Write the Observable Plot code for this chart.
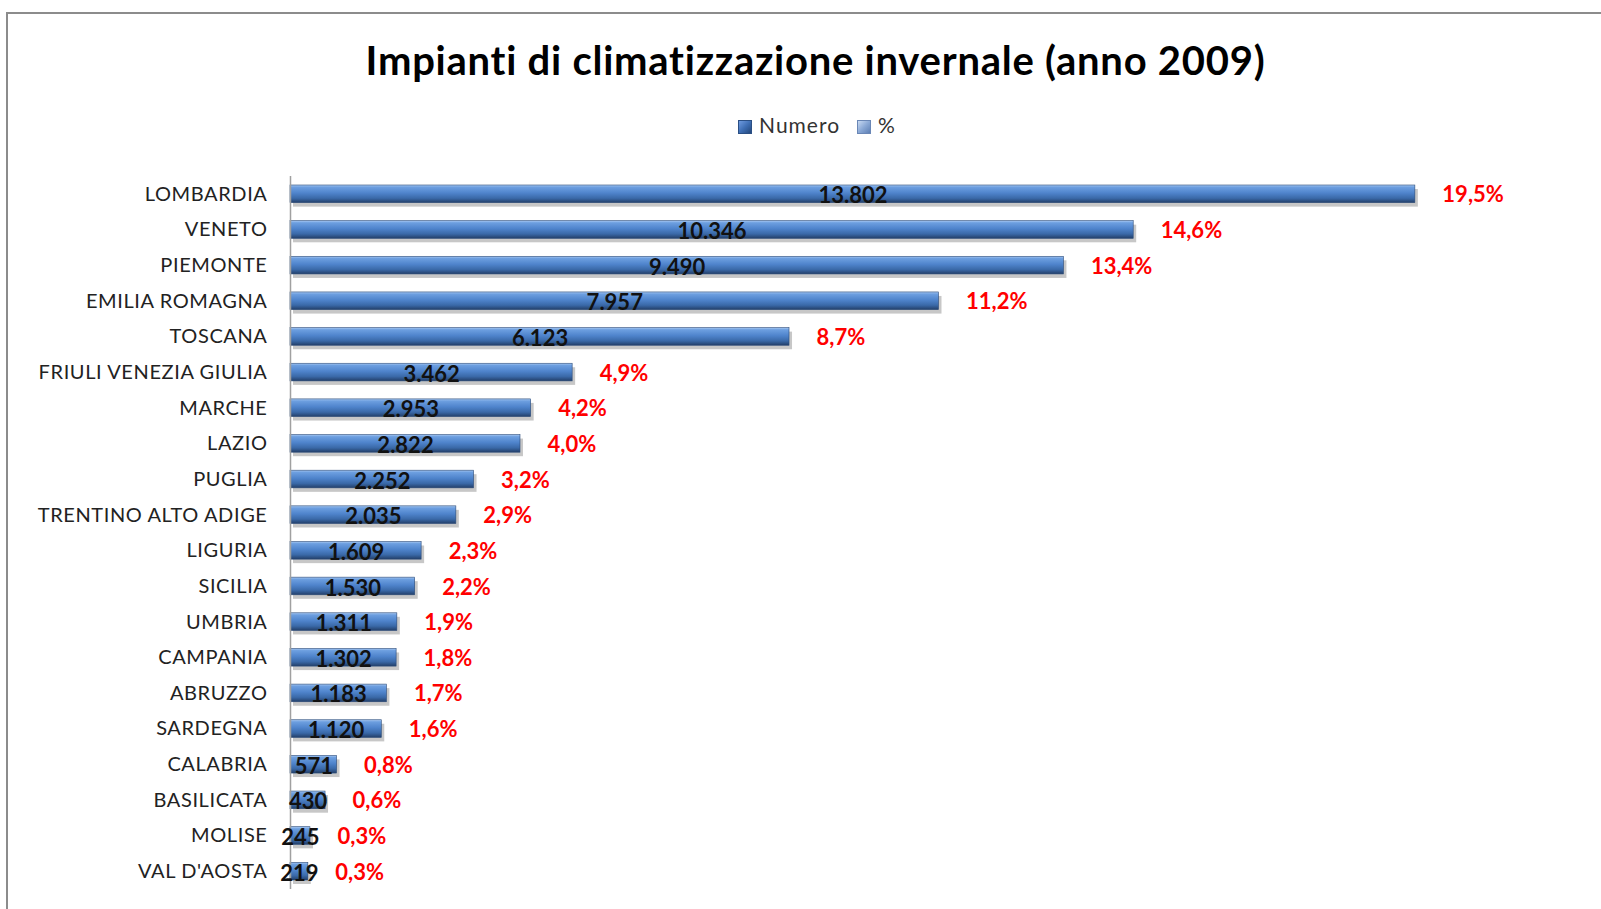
<!DOCTYPE html>
<html>
<head>
<meta charset="utf-8">
<script src="https://cdn.jsdelivr.net/npm/d3@7"></script>
<script src="https://cdn.jsdelivr.net/npm/@observablehq/plot@0.6"></script>
<style>
  html, body { margin: 0; padding: 0; background: #fff; }
  #wrap { position: relative; width: 1601px; height: 909px; overflow: hidden; font-family: Lato, "DejaVu Sans", sans-serif; }
  #frame { position: absolute; left: 6px; top: 12px; width: 1700px; height: 1000px; border: 2px solid #8c8c8c; box-sizing: border-box; }
  #title { position: absolute; left: 0; width: 1631px; top: 40px; text-align: center; font-size: 40px; line-height: 40px; font-weight: 700; color: #000; letter-spacing: 0.75px; }
  #legend { position: absolute; left: 0; width: 1634px; top: 114px; text-align: center; font-size: 21px; line-height: 22px; color: #333; letter-spacing: 1px; }
  .sw { display: inline-block; width: 14px; height: 14px; vertical-align: -1px; margin-right: 7px; box-sizing: border-box; }
  .sw1 { background: linear-gradient(135deg, #6f9be0 0%, #3f6fb5 50%, #23467a 100%); border: 1px solid #2b4f84; }
  .sw2 { background: linear-gradient(135deg, #c9daf2 0%, #8ba9d6 50%, #5d7fb4 100%); border: 1px solid #6a87b6; margin-left: 17px; }
  #chart { position: absolute; left: 0; top: 0; }
  #chart g[aria-label="y-axis tick label"] text { letter-spacing: 0.6px; }
</style>
</head>
<body>
<div id="wrap">
  <div id="frame"></div>
  <div id="chart"></div>
  <div id="title">Impianti di climatizzazione invernale (anno 2009)</div>
  <div id="legend"><span class="sw sw1"></span>Numero<span class="sw sw2"></span>%</div>
</div>
<script>
const regions = ["LOMBARDIA","VENETO","PIEMONTE","EMILIA ROMAGNA","TOSCANA","FRIULI VENEZIA GIULIA","MARCHE","LAZIO","PUGLIA","TRENTINO ALTO ADIGE","LIGURIA","SICILIA","UMBRIA","CAMPANIA","ABRUZZO","SARDEGNA","CALABRIA","BASILICATA","MOLISE","VAL D'AOSTA"];
const numero = [13802,10346,9490,7957,6123,3462,2953,2822,2252,2035,1609,1530,1311,1302,1183,1120,571,430,245,219];
const percent = [19.5,14.6,13.4,11.2,8.7,4.9,4.2,4.0,3.2,2.9,2.3,2.2,1.9,1.8,1.7,1.6,0.8,0.6,0.3,0.3];

const data = regions.map((r, i) => ({region: r, numero: numero[i], pct: percent[i]}));
const it = d3.formatLocale({decimal: ",", thousands: ".", grouping: [3], currency: ["", "€"]});
const fmtN = it.format(",d");
const fmtP = it.format(".1f");

const chart = Plot.plot({
  width: 1601,
  height: 909,
  marginLeft: 290,
  marginRight: 7,
  marginTop: 176,
  marginBottom: 20,
  style: {fontFamily: "Lato, 'DejaVu Sans', sans-serif", fontSize: "20px", color: "#222", background: "transparent"},
  x: {domain: [0, 16000], axis: null},
  y: {domain: regions, padding: 0, round: false, tickSize: 0, tickPadding: 23, label: null},
  marks: [
    Plot.barX(data, {x: "numero", y: "region", insetTop: 9, insetBottom: 9, dx: 3, dy: 4, fill: "#000", fillOpacity: 0.22, ariaLabel: "shadow"}),
    Plot.barX(data, {x: "numero", y: "region", insetTop: 9, insetBottom: 9, fill: "url(#barGrad)", stroke: "#2a4a78", strokeWidth: 0.6, ariaLabel: "bars"}),
    Plot.ruleX([0], {stroke: "#a0a0a0", strokeWidth: 1.5}),
    Plot.text(data, {x: d => d.numero / 2, y: "region", text: d => fmtN(d.numero), fontWeight: "bold", fontSize: 22, fill: "#111", dy: 2}),
    Plot.text(data, {x: "numero", y: "region", text: d => fmtP(d.pct) + "%", textAnchor: "start", dx: 27, dy: 1, fontWeight: "bold", fontSize: 22, fill: "#ff0000"})
  ]
});

const svg = d3.select(chart);
const defs = svg.insert("defs", ":first-child");
const g = defs.append("linearGradient").attr("id", "barGrad").attr("x1", 0).attr("y1", 0).attr("x2", 0).attr("y2", 1);
[[0, "#a9c9f2"], [0.12, "#6d9fe0"], [0.45, "#4f84cc"], [0.75, "#3a69a8"], [1, "#233f69"]].forEach(([o, c]) =>
  g.append("stop").attr("offset", o).attr("stop-color", c));
const f = defs.append("filter").attr("id", "blur").attr("x", "-10%").attr("y", "-50%").attr("width", "120%").attr("height", "200%");
f.append("feGaussianBlur").attr("stdDeviation", 2);
svg.select('g[aria-label="shadow"]').attr("filter", "url(#blur)");

document.getElementById("chart").appendChild(chart);
</script>
</body>
</html>
